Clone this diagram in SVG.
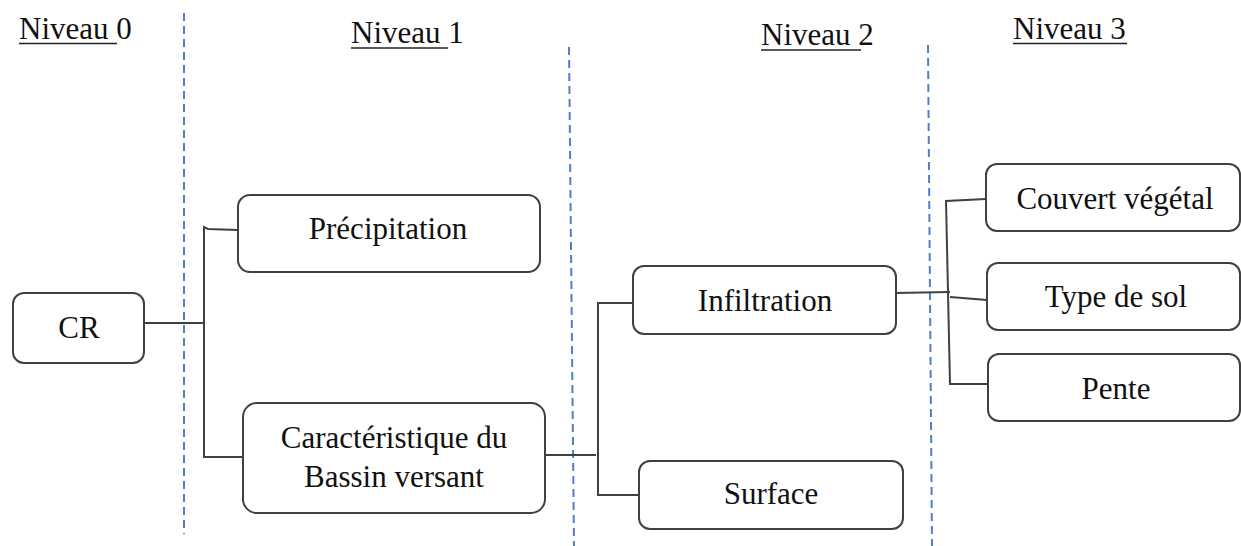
<svg xmlns="http://www.w3.org/2000/svg" width="1241" height="546" viewBox="0 0 1241 546">
<style>
.box{fill:#fff;stroke:#404040;stroke-width:2}
.lbl{font-family:"Liberation Serif","Times New Roman",serif;font-size:31px;fill:#111;text-anchor:middle}
.hdr{font-family:"Liberation Serif","Times New Roman",serif;font-size:31px;fill:#111}
.ul{stroke:#222;stroke-width:1.6}
.sep{stroke:#4F7FC8;stroke-width:2;stroke-dasharray:8 5;fill:none}
.con{stroke:#404040;stroke-width:2;fill:none}
</style>
<rect width="1241" height="546" fill="#fff"/>
<g id="separators">
<line class="sep" x1="184" y1="13" x2="184" y2="534"/>
<line class="sep" x1="569" y1="47" x2="574" y2="546"/>
<line class="sep" x1="928" y1="45" x2="932" y2="546"/>
</g>
<g id="headers">
<text class="hdr" x="19" y="39">Niveau 0</text>
<line class="ul" x1="19" y1="43.5" x2="117" y2="43.5"/>
<text class="hdr" x="351" y="43">Niveau 1</text>
<line class="ul" x1="351" y1="48" x2="448" y2="48"/>
<text class="hdr" x="761" y="45">Niveau 2</text>
<line class="ul" x1="761" y1="50" x2="861" y2="50"/>
<text class="hdr" x="1013" y="39">Niveau 3</text>
<line class="ul" x1="1013" y1="43.5" x2="1127" y2="43.5"/>
</g>
<g id="connectors">
<path class="con" d="M144,323 H204"/>
<path class="con" d="M238,230 L208,229 L204,227 V457 H243"/>
<path class="con" d="M545,455 H596"/>
<path class="con" d="M633,303 H598 V495 H639"/>
<path class="con" d="M896,293 L950,292"/>
<path class="con" d="M986,199 L946,201 L950,384 H988"/>
<path class="con" d="M950,297 L987,300"/>
</g>
<g id="node-cr">
<rect class="box" x="13" y="293" width="131" height="70" rx="11"/>
<text class="lbl" x="79" y="338">CR</text>
</g>
<g id="node-precipitation">
<rect class="box" x="238" y="195" width="302" height="77" rx="12"/>
<text class="lbl" x="388" y="239">Précipitation</text>
</g>
<g id="node-caracteristique">
<rect class="box" x="243" y="403" width="302" height="110" rx="14"/>
<text class="lbl" x="394" y="448">Caractéristique du</text>
<text class="lbl" x="394" y="487">Bassin versant</text>
</g>
<g id="node-infiltration">
<rect class="box" x="633" y="266" width="263" height="68" rx="11"/>
<text class="lbl" x="765" y="311">Infiltration</text>
</g>
<g id="node-surface">
<rect class="box" x="639" y="461" width="264" height="68" rx="11"/>
<text class="lbl" x="771" y="504">Surface</text>
</g>
<g id="node-couvert">
<rect class="box" x="986" y="164" width="254" height="67" rx="11"/>
<text class="lbl" x="1115" y="209">Couvert végétal</text>
</g>
<g id="node-type-sol">
<rect class="box" x="987" y="263" width="253" height="67" rx="11"/>
<text class="lbl" x="1116" y="307">Type de sol</text>
</g>
<g id="node-pente">
<rect class="box" x="988" y="354" width="252" height="67" rx="11"/>
<text class="lbl" x="1116" y="399">Pente</text>
</g>
</svg>
